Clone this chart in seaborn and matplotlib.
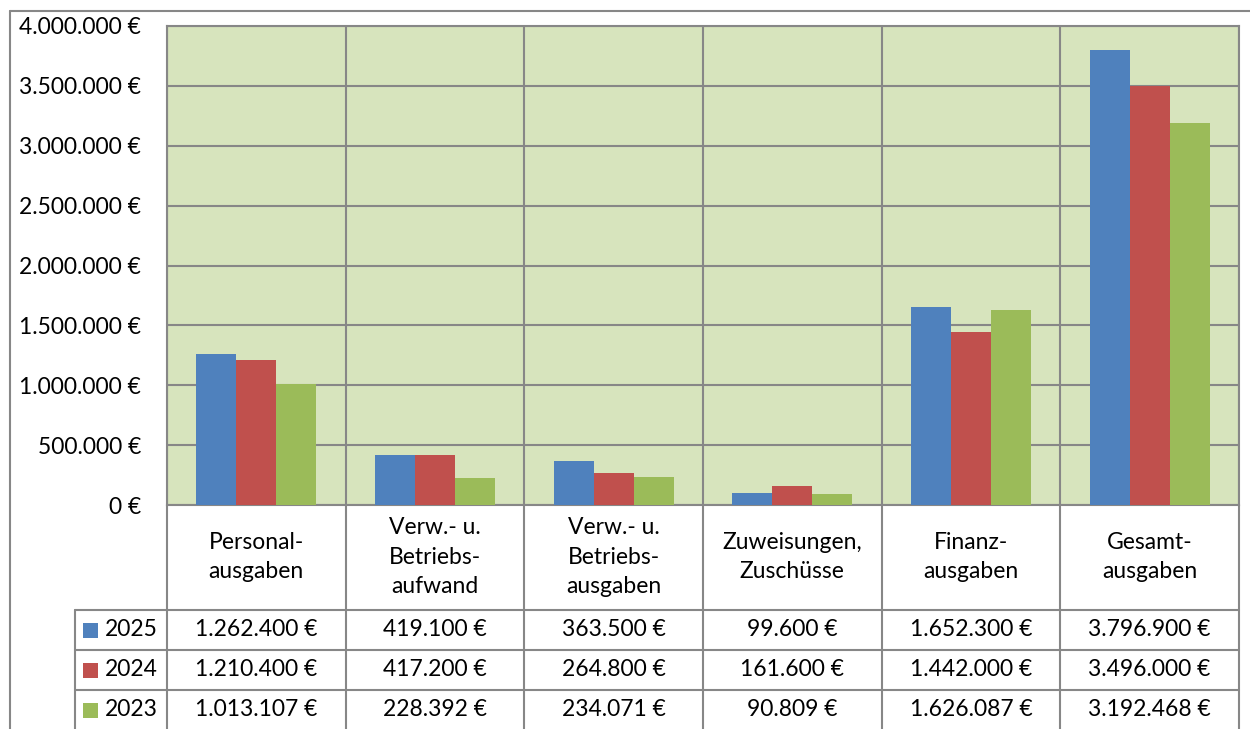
import numpy as np
import pandas as pd
import seaborn as sns
import matplotlib.pyplot as plt
import matplotlib.transforms as mtransforms
from matplotlib.lines import Line2D
from matplotlib.patches import Rectangle

# Ausgaben je Kategorie und Jahr
categories = ['Personal-\nausgaben', 'Verw.- u.\nBetriebs-\naufwand', 'Verw.- u.\nBetriebs-\nausgaben',
              'Zuweisungen,\nZuschüsse', 'Finanz-\nausgaben', 'Gesamt-\nausgaben']
years = ['2025', '2024', '2023']
werte_2025 = [1262400, 419100, 363500, 99600, 1652300, 3796900]
werte_2024 = [1210400, 417200, 264800, 161600, 1442000, 3496000]
werte_2023 = [1013107, 228392, 234071, 90809, 1626087, 3192468]
yticks = [0, 500000, 1000000, 1500000, 2000000, 2500000, 3000000, 3500000, 4000000]
colors = ['#4F81BD', '#C0504D', '#9BBB59']


def euro(v):
    return f'{v:,.0f} €'.replace(',', '.')


alle = [werte_2025, werte_2024, werte_2023]
df = pd.DataFrame({
    'Kategorie': categories * 3,
    'Jahr': [y for y in years for _ in categories],
    'Wert': werte_2025 + werte_2024 + werte_2023,
})

sns.set_theme(style='white')
plt.rcParams['font.family'] = ['Lato', 'DejaVu Sans']
grey = '#878787'
fs = 16.5

W, H = 1250, 729
fig = plt.figure(figsize=(12.5, 7.29), dpi=100)
fig.patch.set_facecolor('white')


def fx(x):
    return x / W


def fy(y):
    return 1 - y / H


ax = fig.add_axes([fx(167), fy(505), (1239 - 167) / W, (505 - 26) / H])
ax.set_facecolor('#D7E4BD')
sns.barplot(data=df, x='Kategorie', y='Wert', hue='Jahr', hue_order=years, palette=colors,
            width=0.67, saturation=1, linewidth=0, legend=False, ax=ax, zorder=3)

ax.set_xlim(-0.5, len(categories) - 0.5)
ax.set_ylim(0, 4000000)
ax.set_yticks(yticks)
ax.set_yticklabels([euro(v) for v in yticks], fontsize=fs, color='black')
ax.set_xticks([])
ax.set_xticks(np.arange(-0.5, len(categories), 1), minor=True)
ax.tick_params(axis='x', which='both', length=0)
ax.tick_params(axis='y', length=6.5, width=1.5, color=grey, pad=12)
ax.grid(axis='y', which='major', color=grey, lw=1.5, zorder=1)
ax.grid(axis='x', which='minor', color=grey, lw=1.5, zorder=1)
ax.set_axisbelow(True)
ax.set_xlabel('')
ax.set_ylabel('')
for s in ax.spines.values():
    s.set_color(grey)
    s.set_linewidth(1.5)

# Datentabelle unter dem Diagramm
trans = mtransforms.blended_transform_factory(ax.transData, fig.transFigure)
for b in np.arange(-0.5, len(categories), 1):
    fig.add_artist(Line2D([b, b], [fy(505), fy(735)], transform=trans, color=grey, lw=1.5))
for yy in [610, 650, 690]:
    fig.add_artist(Line2D([fx(75), fx(1239)], [fy(yy), fy(yy)], transform=fig.transFigure, color=grey, lw=1.5))
fig.add_artist(Line2D([fx(75), fx(75)], [fy(610), fy(735)], transform=fig.transFigure, color=grey, lw=1.5))

for i, cat in enumerate(categories):
    fig.text(i, fy(557), cat, transform=trans, ha='center', va='center', fontsize=fs,
             linespacing=1.5, color='black')

row_y = [630, 670, 710]
for r, (year, werte, c) in enumerate(zip(years, alle, colors)):
    fig.add_artist(Rectangle((fx(83), fy(row_y[r] + 7.5)), 15 / W, 15 / H,
                             transform=fig.transFigure, color=c, lw=0))
    fig.text(fx(105), fy(row_y[r]), year, ha='left', va='center', fontsize=fs, color='black')
    for i, v in enumerate(werte):
        fig.text(i, fy(row_y[r]), euro(v), transform=trans, ha='center', va='center',
                 fontsize=fs, color='black')

# äußerer Rahmen
fig.add_artist(Line2D([fx(10), fx(1260)], [fy(11), fy(11)], transform=fig.transFigure, color=grey, lw=1.5))
fig.add_artist(Line2D([fx(10), fx(10)], [fy(11), fy(740)], transform=fig.transFigure, color=grey, lw=1.5))

fig.savefig('out.png', dpi=100)
